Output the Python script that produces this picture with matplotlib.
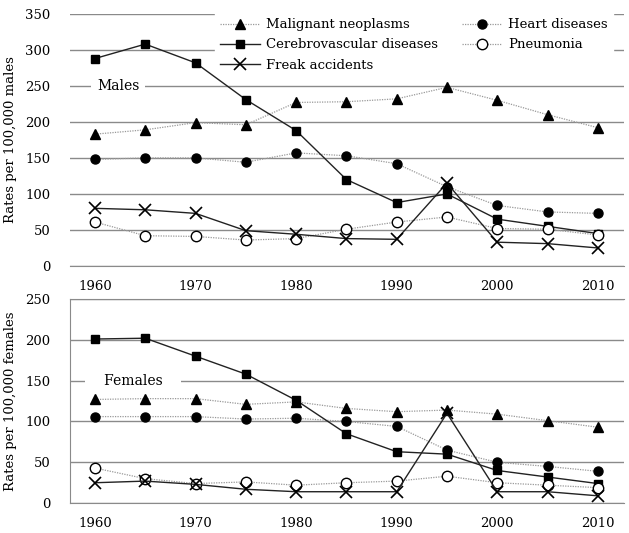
import matplotlib
matplotlib.use("Agg")
import matplotlib.pyplot as plt

plt.rcParams['font.family'] = ['DejaVu Serif']

years = [1960, 1965, 1970, 1975, 1980, 1985, 1990, 1995, 2000, 2005, 2010]

# males, rates per 100,000
m_malignant = [183, 189, 199, 196, 227, 228, 232, 248, 230, 210, 192]
m_heart = [148, 150, 150, 144, 157, 153, 142, 110, 84, 75, 73]
m_cerebro = [288, 308, 282, 231, 188, 120, 88, 100, 65, 55, 45]
m_pneumonia = [61, 42, 41, 36, 38, 51, 61, 68, 52, 51, 43]
m_freak = [80, 78, 73, 49, 44, 38, 37, 115, 33, 31, 25]

# females, rates per 100,000
f_malignant = [127, 128, 128, 121, 124, 116, 112, 114, 109, 101, 93]
f_heart = [106, 106, 106, 103, 104, 100, 94, 65, 50, 45, 39]
f_cerebro = [201, 202, 180, 158, 126, 85, 63, 60, 40, 32, 24]
f_pneumonia = [43, 30, 24, 26, 22, 25, 27, 33, 25, 22, 19]
f_freak = [25, 27, 23, 17, 14, 14, 14, 110, 14, 14, 9]

labels = ['Malignant neoplasms', 'Cerebrovascular diseases', 'Freak accidents',
          'Heart diseases', 'Pneumonia']

fig = plt.figure(figsize=(6.29, 5.33), dpi=100)
ax1 = fig.add_axes([0.111, 0.501, 0.881, 0.473])
ax2 = fig.add_axes([0.111, 0.056, 0.881, 0.383])

dot = dict(color='#999999', linestyle=(0, (1, 1)), linewidth=0.9)
sol = dict(color='#222222', linestyle='-', linewidth=1.0)


def draw(ax, mal, heart, cer, pneu, freak):
    h = {}
    h['Malignant neoplasms'], = ax.plot(years, mal, marker='^', ms=7.5, mfc='black', mec='black', **dot)
    h['Heart diseases'], = ax.plot(years, heart, marker='o', ms=6.5, mfc='black', mec='black', **dot)
    h['Cerebrovascular diseases'], = ax.plot(years, cer, marker='s', ms=6, mfc='black', mec='black', **sol)
    h['Pneumonia'], = ax.plot(years, pneu, marker='o', ms=7.5, mfc='white', mec='black', mew=1.0, **dot)
    h['Freak accidents'], = ax.plot(years, freak, marker='x', ms=8, mec='black', mew=1.2, **sol)
    ax.set_xlim(1957.5, 2012.6)
    ax.set_xticks([1960, 1970, 1980, 1990, 2000, 2010])
    ax.yaxis.grid(True, color='#8a8a8a', linewidth=1.0)
    ax.set_axisbelow(True)
    for s in ['top', 'right']:
        ax.spines[s].set_visible(False)
    ax.spines['bottom'].set_color('#8a8a8a')
    ax.spines['left'].set_color('#8a8a8a')
    ax.tick_params(length=0, labelsize=9.5)
    ax.tick_params(axis='y', pad=14)
    ax.tick_params(axis='x', pad=10)
    return h


h = draw(ax1, m_malignant, m_heart, m_cerebro, m_pneumonia, m_freak)
ax1.set_ylim(0, 350)
ax1.set_yticks(range(0, 351, 50))
ax1.spines['left'].set_visible(False)
ax1.set_ylabel('Rates per 100,000 males', fontsize=9.5, labelpad=6)
ax1.text(1962.3, 250, 'Males', fontsize=10, va='center', ha='center',
         bbox=dict(facecolor='white', edgecolor='none', pad=4))
leg = ax1.legend([h[k] for k in labels], labels, ncol=2, loc='upper left',
                 bbox_to_anchor=(0.25, 1.03), frameon=True, fontsize=9.5,
                 handlelength=3, columnspacing=1.8, labelspacing=0.55,
                 borderpad=0.4, handletextpad=0.5)
leg.get_frame().set_edgecolor('white')
leg.get_frame().set_alpha(1)
leg.get_frame().set_boxstyle('square', pad=0)
# legend box hides the gridlines only, data lines stay on top
leg.set_zorder(1)

draw(ax2, f_malignant, f_heart, f_cerebro, f_pneumonia, f_freak)
ax2.set_ylim(0, 250)
ax2.set_yticks(range(0, 251, 50))
ax2.spines['top'].set_visible(True)
ax2.spines['top'].set_color('#8a8a8a')
ax2.set_ylabel('Rates per 100,000 females', fontsize=9.5, labelpad=6)
ax2.text(1963.8, 150, '   Females   ', fontsize=10, va='center', ha='center',
         bbox=dict(facecolor='white', edgecolor='none', pad=4))

fig.savefig('out.png', dpi=100)
